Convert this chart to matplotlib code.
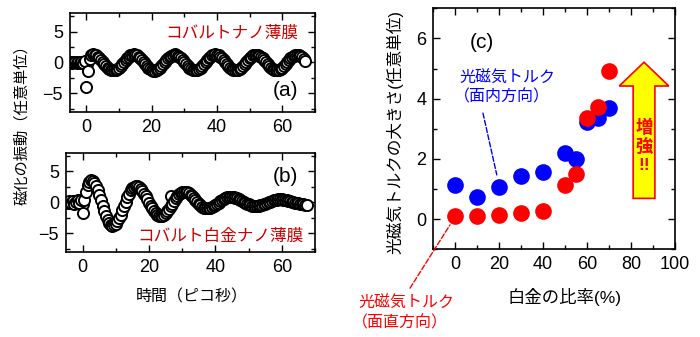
import numpy as np
import matplotlib
matplotlib.use("Agg")
import matplotlib.pyplot as plt
from matplotlib.patches import FancyArrow
from matplotlib.ticker import MultipleLocator

plt.rcParams["font.family"] = ["Liberation Sans", "Noto Sans CJK JP", "DejaVu Sans"]

# (a) コバルトナノ薄膜: 0.5 ps 刻みの読み取り値 (-5 ... 67 ps)
time_a = np.arange(-5, 67.5, 0.5)
osc_a = [
    0.05, -0.1, 0.1, 0.0, -0.1, 0.15, -0.05, 0.1, -0.1, 0.2,
    -3.9, -1.4, 0.6, 1.2,
    1.3, 1.26, 1.14, 0.95, 0.70, 0.40, 0.08, -0.24, -0.55, -0.83, -1.05, -1.21, -1.29,
    -1.29, -1.21, -1.05, -0.83, -0.55, -0.24, 0.08, 0.40, 0.70, 0.95, 1.14, 1.26,
    1.32, 1.28, 1.15, 0.96, 0.71, 0.40, 0.07, -0.25, -0.56, -0.84, -1.06, -1.22, -1.30,
    -1.30, -1.22, -1.06, -0.84, -0.56, -0.25, 0.07, 0.39, 0.69, 0.94, 1.13, 1.25,
    1.3, 1.25, 1.13, 0.94, 0.69, 0.39, 0.07, -0.24, -0.55, -0.82, -1.04, -1.2, -1.28,
    -1.28, -1.2, -1.04, -0.82, -0.55, -0.24, 0.08, 0.4, 0.7, 0.95, 1.14, 1.26,
    1.31, 1.27, 1.15, 0.95, 0.70, 0.40, 0.08, -0.24, -0.55, -0.83, -1.05, -1.21, -1.29,
    -1.29, -1.21, -1.05, -0.83, -0.55, -0.24, 0.08, 0.40, 0.70, 0.95, 1.14, 1.26,
    1.29, 1.25, 1.13, 0.94, 0.69, 0.39, 0.07, -0.24, -0.54, -0.82, -1.04, -1.2, -1.28,
    -1.28, -1.2, -1.04, -0.82, -0.54, -0.24, 0.07, 0.39, 0.69, 0.94, 1.13, 1.25,
    1.28, 1.24, 1.12, 0.92, 0.62, 0.25,
]
extra_t_a = [0.2]
extra_v_a = [-0.2]

# (b) コバルト白金ナノ薄膜 (-5 ... 67.5 ps)
time_b = np.arange(-5, 68, 0.5)
osc_b = [
    0.1, -0.2, 0.2, -0.1, 0.15, -0.25, 0.1, 0.3, -0.15, 0.35,
    -1.8, 0.4, 1.7, 2.7, 3.3,
    3.6, 3.49, 3.17, 2.67, 2.0, 1.21, 0.35, -0.55, -1.41, -2.2, -2.87, -3.37, -3.69, -3.8,
    -3.72, -3.48, -3.10, -2.59, -1.99, -1.31, -0.6, 0.11, 0.79, 1.39, 1.90, 2.28, 2.52, 2.6,
    2.55, 2.39, 2.14, 1.81, 1.4, 0.94, 0.45, -0.05, -0.54, -1.0, -1.41, -1.74, -1.99, -2.15, -2.2,
    -2.15, -2.01, -1.77, -1.46, -1.10, -0.68, -0.25, 0.18, 0.60, 0.96, 1.27, 1.51, 1.65, 1.7,
    1.67, 1.57, 1.41, 1.19, 0.94, 0.65, 0.35, 0.05, -0.24, -0.49, -0.71, -0.87, -0.97, -1.0,
    -0.98, -0.91, -0.80, -0.65, -0.48, -0.28, -0.08, 0.13, 0.33, 0.50, 0.65, 0.76, 0.83, 0.85,
    0.83, 0.79, 0.71, 0.61, 0.49, 0.35, 0.2, 0.05, -0.1, -0.24, -0.36, -0.46, -0.54, -0.58, -0.6,
    -0.59, -0.56, -0.50, -0.43, -0.34, -0.24, -0.13, -0.02, 0.09, 0.19, 0.28, 0.35, 0.40, 0.44, 0.45,
    0.44, 0.42, 0.38, 0.33, 0.26, 0.19, 0.11, 0.03, -0.06, -0.14, -0.21, -0.28, -0.33, -0.37, -0.39, -0.4,
]
extra_t_b = [0.2, 26.5]
extra_v_b = [-0.3, 1.0]

# (c) 白金の比率と光磁気トルク
pt_ratio = [0, 10, 20, 30, 40, 50, 55, 60, 65, 70]
torque_inplane = [1.15, 0.75, 1.07, 1.42, 1.55, 2.2, 2.0, 3.22, 3.35, 3.7]
torque_perp = [0.12, 0.12, 0.13, 0.22, 0.27, 1.14, 1.49, 3.35, 3.71, 4.93]

W, H = 700, 337
fig = plt.figure(figsize=(7, 3.37), dpi=100)


def px_axes(x0, y0, x1, y1):
    return fig.add_axes([x0 / W, 1 - y1 / H, (x1 - x0) / W, (y1 - y0) / H])


def style(ax):
    for s in ax.spines.values():
        s.set_linewidth(1.2)
    ax.tick_params(which="both", direction="in", top=True, right=True,
                   labelsize=13, width=1.0, pad=5)
    ax.tick_params(which="major", length=5)
    ax.tick_params(which="minor", length=3)


ax_a = px_axes(70, 13, 315, 112)
ax_b = px_axes(66, 152.7, 315, 251.7)
ax_c = px_axes(433.3, 8.3, 675, 249.3)

for ax, t, v, et, ev in [(ax_a, time_a, osc_a, extra_t_a, extra_v_a),
                         (ax_b, time_b, osc_b, extra_t_b, extra_v_b)]:
    ax.plot(et, ev, "o", mfc="white", mec="black", ms=8, mew=1.4)
    ax.plot(t, v, "o", mfc="white", mec="black", ms=8, mew=1.4)
    ax.set_xlim(-5, 70)
    ax.set_ylim(-8, 8)
    ax.xaxis.set_major_locator(MultipleLocator(20))
    ax.xaxis.set_minor_locator(MultipleLocator(10))
    ax.yaxis.set_major_locator(MultipleLocator(5))
    ax.yaxis.set_minor_locator(MultipleLocator(2.5))
    style(ax)

ax_a.text(0.66, 0.8, "コバルトナノ薄膜", transform=ax_a.transAxes, fontsize=12,
          color="#cc0000", ha="center", va="center")
ax_a.text(0.88, 0.22, "(a)", transform=ax_a.transAxes, fontsize=15, ha="center", va="center")
ax_b.text(0.88, 0.76, "(b)", transform=ax_b.transAxes, fontsize=15, ha="center", va="center")
ax_b.text(0.62, 0.16, "コバルト白金ナノ薄膜", transform=ax_b.transAxes, fontsize=12,
          color="#cc0000", ha="center", va="center")

fig.text(21.7 / W, 1 - 121.5 / H, "磁化の振動（任意単位）", rotation=90, fontsize=11,
         ha="center", va="center")
fig.text(191.7 / W, 1 - 296.7 / H, "時間（ピコ秒）", fontsize=11.5, ha="center", va="center")

# (c)
ax_c.plot(pt_ratio, torque_inplane, "o", color="#0000ff", ms=12, mew=0)
ax_c.plot(pt_ratio, torque_perp, "o", color="#ff0000", ms=12, mew=0)
ax_c.set_xlim(-10, 100)
ax_c.set_ylim(-1, 7)
ax_c.xaxis.set_major_locator(MultipleLocator(20))
ax_c.xaxis.set_minor_locator(MultipleLocator(10))
ax_c.yaxis.set_major_locator(MultipleLocator(2))
ax_c.yaxis.set_minor_locator(MultipleLocator(1))
style(ax_c)

ax_c.text(12.2, 5.85, "(c)", fontsize=15, ha="center", va="center")
ax_c.text(2.1, 4.69, "光磁気トルク", fontsize=11.5, color="#0000ff", ha="left", va="center")
ax_c.text(-0.5, 4.06, "（面内方向）", fontsize=11.5, color="#0000ff", ha="left", va="center")
ax_c.annotate("", xy=(18.9, 1.47), xytext=(12.6, 3.52),
              arrowprops=dict(arrowstyle="-", ls="--", color="#0000ff", lw=1,
                              shrinkA=0, shrinkB=0))
ax_c.annotate("", xy=(-2.4, -0.19), xytext=(-20.6, -2.29), annotation_clip=False,
              arrowprops=dict(arrowstyle="-", ls="--", color="#ff0000", lw=1,
                              shrinkA=0, shrinkB=0))
fig.text(358 / W, 1 - 303 / H, "光磁気トルク", fontsize=11.5, color="#ff0000",
         ha="left", va="center")
fig.text(352 / W, 1 - 323 / H, "（面直方向）", fontsize=11.5, color="#ff0000",
         ha="left", va="center")

arrow = FancyArrow(85.9, 0.69, 0, 4.52, width=9.9, head_width=22.6, head_length=0.79,
                   length_includes_head=True, fc="#ffff00", ec="#ff0000", lw=1.2)
ax_c.add_patch(arrow)
ax_c.text(85.9, 2.43, "増\n強\n!!", fontsize=12.5, fontweight="bold", color="#ff0000",
          ha="center", va="center", linespacing=1.2)

fig.text(395 / W, 1 - 132 / H, "光磁気トルクの大きさ(任意単位)", rotation=90, fontsize=12,
         ha="center", va="center")
fig.text(565 / W, 1 - 296.7 / H, "白金の比率(%)", fontsize=12.5, ha="center", va="center")

fig.savefig("out.png", dpi=100)
